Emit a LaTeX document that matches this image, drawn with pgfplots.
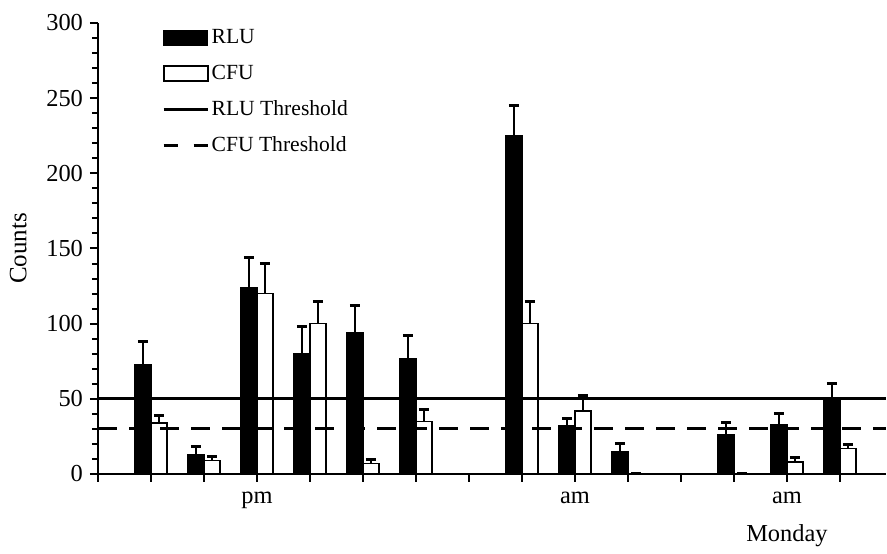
\documentclass[border=0pt]{standalone}
\usepackage{fontspec}
\setmainfont{Liberation Serif}
\usepackage{pgfplots}
\pgfplotsset{compat=1.18}
\usepackage{pgfplotstable}
\pgfplotstableread{
x rlu rluerr cfu cfuerr
1 73 15 34 5
2 13 5 9 2.6
3 124 20 120 20
4 80 18 100 15
5 94 18 7 2.6
6 77 15 35 8
8 225 20 100 15
9 32 5 42 10
10 15 5 0 0
12 26 8 0 0
13 33 7 8 2.8
14 50 10 17 2.6
}\datatable
\begin{document}
\begin{tikzpicture}
\path (0,0) rectangle (443.5pt,272pt);
\begin{axis}[
  at={(49pt,35pt)}, anchor=south west,
  scale only axis, width=394pt, height=225.5pt,
  xmin=0, xmax=14.87, ymin=0, ymax=300,
  axis x line*=bottom, axis y line*=left,
  axis line style={-, line width=1pt},
  xtick={0,...,14},
  xticklabels={,,,pm,,,,,,am,,,,{am\\[4.5pt]Monday}},
  xticklabel style={align=center, yshift=-1.5pt},
  ytick={0,50,...,300},
  minor y tick num=4,
  tick align=outside,
  major tick length=4pt, minor tick length=3pt,
  tick style={black, line width=1pt},
  /pgf/number format/assume math mode=true,
  tick label style={font=\fontsize{12.2}{14.5}\selectfont},
  label style={font=\fontsize{12.5}{15}\selectfont},
  ylabel={Counts}, ylabel shift=3pt,
  legend style={at={(rel axis cs:0.081,0.995)}, anchor=north west, draw=none, fill=none,
    font=\fontsize{10.8}{13}\selectfont, row sep=5pt, inner sep=0pt,
    nodes={inner xsep=1.2pt}},
  legend cell align=left,
]
\addplot[ybar, bar width=8pt, bar shift=0pt, fill=black, draw=black, line width=0.6pt,
  legend image code/.code={\draw[fill=black,draw=black] (0pt,-3.75pt) rectangle (22pt,3.75pt);},
  error bars/.cd, y dir=plus, y explicit,
  error bar style={line width=1pt, black},
  error mark options={rotate=90, mark size=2.5pt, line width=1.5pt, black}]
  table[x expr=\thisrow{x}-0.151, y=rlu, y error=rluerr]{\datatable};
\addlegendentry{RLU}
\addplot[ybar, bar width=8pt, bar shift=0pt, fill=white, draw=black, line width=0.8pt,
  legend image code/.code={\draw[fill=white,draw=black,line width=0.8pt] (0pt,-3.75pt) rectangle (22pt,3.75pt);},
  error bars/.cd, y dir=plus, y explicit,
  error bar style={line width=1pt, black},
  error mark options={rotate=90, mark size=2.5pt, line width=1.5pt, black}]
  table[x expr=\thisrow{x}+0.151, y=cfu, y error=cfuerr]{\datatable};
\addlegendentry{CFU}
\addplot[sharp plot, no marks, black, line width=1.5pt,
  legend image code/.code={\draw[black,line width=1.5pt] (0pt,0pt) -- (22pt,0pt);}]
  coordinates {(0,50) (14.87,50)};
\addlegendentry{RLU Threshold}
\addplot[sharp plot, no marks, black, line width=1.5pt, dash pattern=on 9.5pt off 6pt,
  legend image code/.code={\draw[black,line width=1.5pt,dash pattern=on 7pt off 8pt] (0pt,0pt) -- (22pt,0pt);}]
  coordinates {(0,30) (14.87,30)};
\addlegendentry{CFU Threshold}
\end{axis}
\end{tikzpicture}
\end{document}
